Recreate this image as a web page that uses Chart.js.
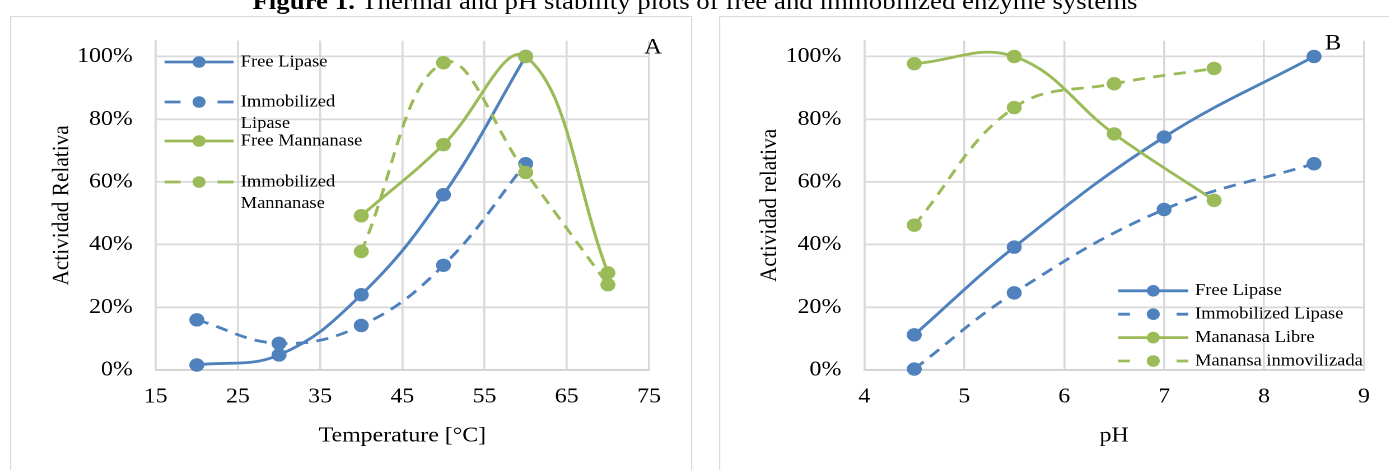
<!DOCTYPE html>
<html>
<head>
<meta charset="utf-8">
<script src="https://cdn.jsdelivr.net/npm/chart.js@4.4.1/dist/chart.umd.min.js"></script>
<style>
  html, body { margin: 0; padding: 0; background: #fff; overflow: hidden; }
  body { width: 1389px; height: 470px; position: relative; }
  /* the reference picture is stretched a little horizontally */
  #page { position: absolute; left: 0; top: 0; width: 1241px; height: 470px;
          transform: scaleX(1.12); transform-origin: 0 0; }
  #figTitle { position: absolute; left: 0; top: -11px; width: 1241px; text-align: center;
              font-family: "Liberation Serif", serif; font-size: 24px; line-height: 24px;
              color: #000; white-space: nowrap; }
  .panel { position: absolute; top: 16px; height: 470px; border: 1.8px solid #d9d9d9; box-sizing: border-box; }
  #panelA { left: 8.5px; width: 609px; }
  #panelB { left: 642px; width: 700px; }
  canvas { position: absolute; top: 18px; }
  #chartA { left: 10px; }
  #chartB { left: 644px; }
</style>
</head>
<body>
<div id="page">
  <div id="figTitle"><b>Figure 1.</b> Thermal and pH stability plots of free and immobilized enzyme systems</div>
  <div class="panel" id="panelA"></div>
  <div class="panel" id="panelB"></div>
  <canvas id="chartA"></canvas>
  <canvas id="chartB"></canvas>
</div>
<script>
// ---- data (A: temperature, B: pH) ----
const tempLipase = [20, 30, 40, 50, 60];
const freeLipaseTemp = [1.6, 4.8, 24.0, 55.9, 100];
const immLipaseTemp = [16.0, 8.5, 14.2, 33.4, 65.8];
const tempMannanase = [40, 50, 60, 70];
const freeMannanaseTemp = [49.2, 71.9, 100, 31.0];
const immMannanaseTemp = [37.8, 98.0, 63.0, 27.2];

const phLipase = [4.5, 5.5, 7, 8.5];
const freeLipasePh = [11.2, 39.2, 74.3, 100];
const immLipasePh = [0.3, 24.6, 51.2, 65.8];
const phMannanase = [4.5, 5.5, 6.5, 7.5];
const freeMannanasePh = [97.7, 100, 75.3, 54.1];
const immMannanasePh = [46.2, 83.7, 91.3, 96.2];

const labelsA = ["Free Lipase", "Immobilized Lipase", "Free Mannanase", "Immobilized Mannanase"];
const labelsB = ["Free Lipase", "Immobilized Lipase", "Mananasa Libre", "Manansa inmovilizada"];
// legend A wraps its long names
const legendLinesA = [["Free Lipase"], ["Immobilized", "Lipase"], ["Free Mannanase"], ["Immobilized", "Mannanase"]];

const tempTicks = { min: 15, max: 75, step: 10 };
const phTicks = { min: 4, max: 9, step: 1 };
const yTickValues = [0, 20, 40, 60, 80, 100];
const yMax = 105;

const BLUE = "#4F81BD";
const GREEN = "#9BBB59";
const SX = 1.12;
const FONT = "Liberation Serif";

function series(label, xs, ys, color, dashed, order) {
  return {
    label: label,
    data: xs.map((x, i) => ({ x: x, y: ys[i] })),
    borderColor: color,
    backgroundColor: color,
    pointBackgroundColor: color,
    borderWidth: 2.8,
    borderDash: dashed ? [11, 7.5] : [],
    pointRadius: 6.7,
    pointBorderWidth: 0,
    pointHoverRadius: 6.7,
    tension: 0.4,
    clip: false,
    order: order
  };
}

const insideLegend = {
  id: "insideLegend",
  afterDraw(chart, args, o) {
    const { ctx, chartArea } = chart;
    ctx.save();
    ctx.font = o.fontSize + "px \"" + FONT + "\"";
    ctx.textBaseline = "middle";
    chart.data.datasets.forEach((ds, i) => {
      const y = chartArea.top + o.rows[i];
      const cx = chartArea.left + o.markerX;
      const x0 = cx - o.half, x1 = cx + o.half;
      ctx.strokeStyle = ds.borderColor;
      ctx.lineWidth = ds.borderWidth;
      ctx.setLineDash([]);
      ctx.beginPath();
      if (ds.borderDash.length) {
        ctx.moveTo(x0, y); ctx.lineTo(x0 + o.dash, y);
        ctx.moveTo(x1 - o.dash, y); ctx.lineTo(x1, y);
      } else {
        ctx.moveTo(x0, y); ctx.lineTo(x1, y);
      }
      ctx.stroke();
      ctx.fillStyle = ds.borderColor;
      ctx.beginPath();
      ctx.arc(cx, y, o.markerR, 0, Math.PI * 2);
      ctx.fill();
      ctx.fillStyle = "#000";
      const lines = o.lines ? o.lines[i] : [ds.label];
      lines.forEach((t, k) => ctx.fillText(t, chartArea.left + o.textX, y + k * o.lineGap));
    });
    ctx.font = o.letterSize + "px \"" + FONT + "\"";
    ctx.textAlign = "center";
    ctx.textBaseline = "alphabetic";
    ctx.fillText(o.letter, o.letterX, o.letterY);
    ctx.restore();
  }
};

function makeChart(id, s) {
  const canvas = document.getElementById(id);
  const W = s.canvasW, H = 452;
  canvas.style.width = W + "px";
  canvas.style.height = H + "px";
  canvas.width = W; canvas.height = H;

  // page pixels -> canvas pixels
  const areaLeft = s.areaLeftPx / SX - s.canvasLeft;
  const areaRight = s.areaRightPx / SX - s.canvasLeft;
  const titleLH = 21.3 * 1.2;

  return new Chart(canvas, {
    type: "line",
    data: { datasets: s.datasets },
    plugins: [insideLegend],
    options: {
      responsive: false,
      animation: false,
      devicePixelRatio: 2,
      layout: { padding: { left: 0, top: 22.8, right: W - areaRight, bottom: 10 } },
      plugins: {
        legend: { display: false },
        tooltip: { enabled: false },
        insideLegend: s.legend
      },
      scales: {
        x: {
          type: "linear",
          min: s.xTicks.min,
          max: s.xTicks.max,
          afterFit: sc => { sc.height = 90; },
          ticks: { stepSize: s.xTicks.step, padding: 14.2, color: "#000", font: { family: FONT, size: 21.3 } },
          grid: { color: "#d9d9d9", lineWidth: 1.8, drawTicks: false },
          border: { color: "#d0d0d0", width: 1.8 },
          title: { display: true, text: s.xTitle, color: "#000", font: { family: FONT, size: 21.3 },
                   padding: { top: 0, bottom: 24 - titleLH / 2 } }
        },
        y: {
          min: 0,
          max: yMax,
          afterBuildTicks: sc => { sc.ticks = yTickValues.map(v => ({ value: v })); },
          afterFit: sc => { sc.width = areaLeft; sc.paddingTop = 0; sc.paddingBottom = 0; },
          ticks: { padding: 20.5, color: "#000", font: { family: FONT, size: 21.3 },
                   callback: v => v + "%" },
          grid: { color: "#d9d9d9", lineWidth: 1.8, drawTicks: false },
          border: { color: "#d9d9d9", width: 1.8 },
          title: { display: true, text: s.yTitle, color: "#000", font: { family: FONT, size: 21.3 },
                   padding: { top: s.yTitleCenterPx / SX - s.canvasLeft - titleLH / 2, bottom: 0 } }
        }
      }
    }
  });
}

makeChart("chartA", {
  canvasLeft: 10, canvasW: 596,
  areaLeftPx: 155.7, areaRightPx: 649,
  yTitleCenterPx: 62,
  xTicks: tempTicks,
  xTitle: "Temperature [°C]",
  yTitle: "Actividad Relativa",
  datasets: [
    series(labelsA[0], tempLipase, freeLipaseTemp, BLUE, false, 3),
    series(labelsA[1], tempLipase, immLipaseTemp, BLUE, true, 2),
    series(labelsA[2], tempMannanase, freeMannanaseTemp, GREEN, false, 1),
    series(labelsA[3], tempMannanase, immMannanaseTemp, GREEN, true, 0)
  ],
  legend: {
    rows: [21.2, 61.2, 100.2, 141.2],
    lines: legendLinesA,
    lineGap: 21.6,
    markerX: 38.7, half: 30.8, dash: 14.3, markerR: 5.8,
    textX: 75.9, fontSize: 16.5,
    letter: "A", letterX: 653 / SX - 10, letterY: 35.3, letterSize: 22
  }
});

makeChart("chartB", {
  canvasLeft: 644, canvasW: 596,
  areaLeftPx: 864.3, areaRightPx: 1364,
  yTitleCenterPx: 770,
  xTicks: phTicks,
  xTitle: "pH",
  yTitle: "Actividad relativa",
  datasets: [
    series(labelsB[0], phLipase, freeLipasePh, BLUE, false, 3),
    series(labelsB[1], phLipase, immLipasePh, BLUE, true, 2),
    series(labelsB[2], phMannanase, freeMannanasePh, GREEN, false, 1),
    series(labelsB[3], phMannanase, immMannanasePh, GREEN, true, 0)
  ],
  legend: {
    rows: [250, 273.4, 296.8, 320.2],
    lineGap: 0,
    markerX: 258, half: 31.25, dash: 10.4, markerR: 5.8,
    textX: 295.3, fontSize: 16.5,
    letter: "B", letterX: 1333 / SX - 644, letterY: 31.5, letterSize: 22
  }
});
</script>
</body>
</html>
